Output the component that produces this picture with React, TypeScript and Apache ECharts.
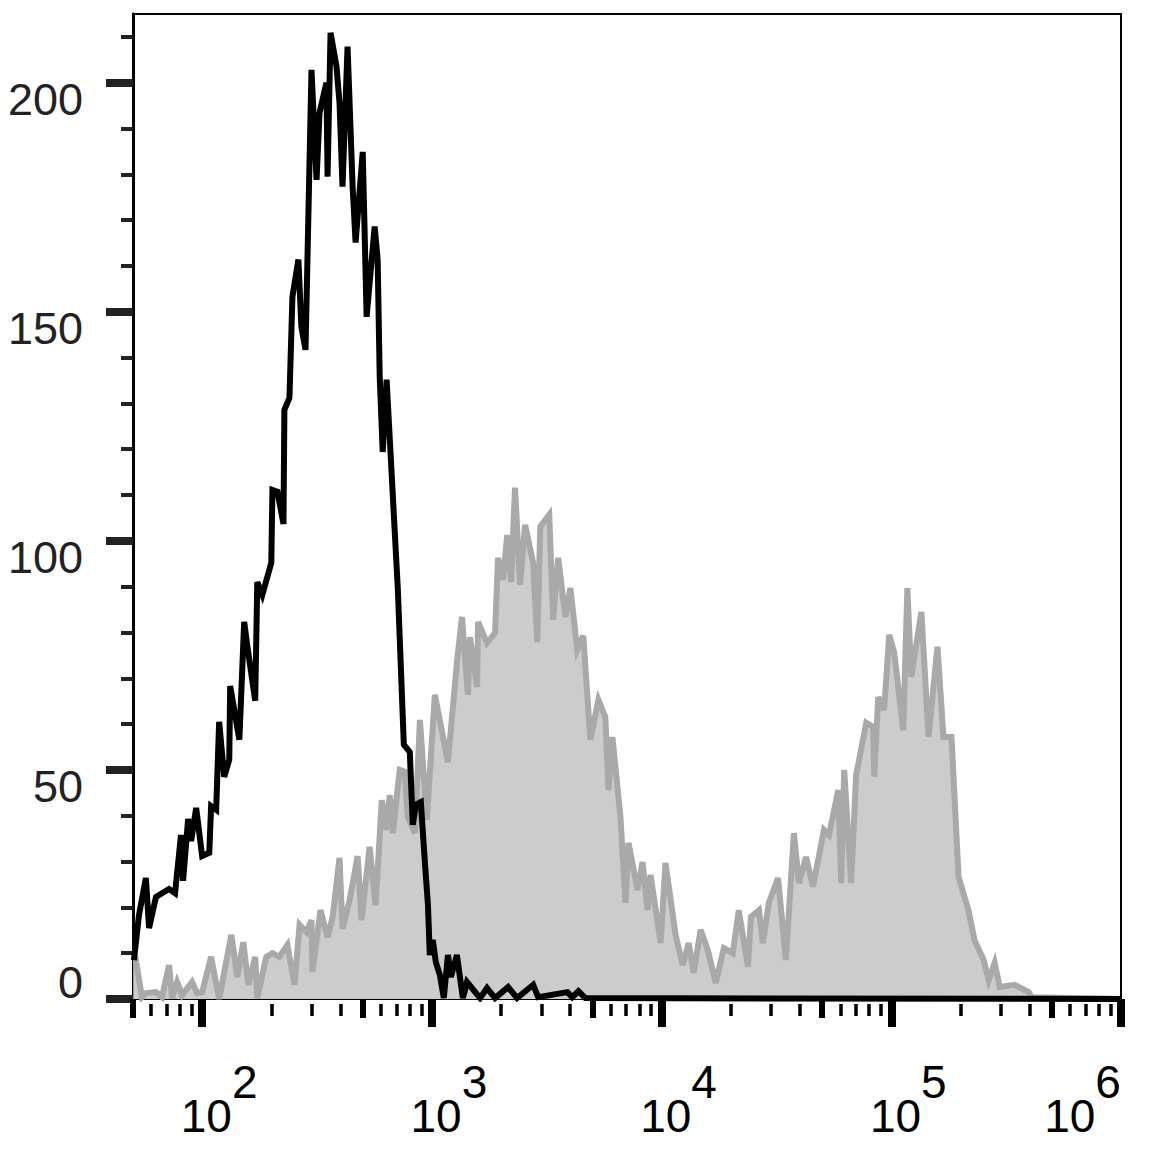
import { useEffect, useRef } from 'react';
import * as echarts from 'echarts';

// log10 of fluorescence intensity (bin positions) and event counts
const blackX = [1.703, 1.725, 1.755, 1.769, 1.799, 1.856, 1.882, 1.908, 1.917, 1.939, 1.952, 1.974, 2.000, 2.031, 2.039, 2.061, 2.074, 2.096, 2.118, 2.122, 2.162, 2.183, 2.197, 2.231, 2.240, 2.262, 2.301, 2.306, 2.328, 2.354, 2.358, 2.380, 2.393, 2.419, 2.432, 2.450, 2.476, 2.498, 2.511, 2.541, 2.546, 2.559, 2.585, 2.598, 2.611, 2.633, 2.655, 2.668, 2.699, 2.716, 2.751, 2.764, 2.773, 2.786, 2.803, 2.852, 2.878, 2.904, 2.917, 2.930, 2.952, 2.969, 2.983, 2.991, 3.004, 3.017, 3.035, 3.052, 3.070, 3.083, 3.109, 3.135, 3.153, 3.210, 3.240, 3.275, 3.332, 3.371, 3.441, 3.463, 3.590, 3.611, 3.638, 3.668, 6.000];
const blackY = [8.5, 18.3, 26.4, 15.5, 22.3, 24.0, 23.1, 35.8, 25.8, 39.3, 34.5, 41.7, 31.2, 31.9, 42.1, 41.3, 60.5, 48.5, 52.2, 68.3, 56.6, 82.3, 76.9, 65.1, 91.0, 88.2, 95.2, 111.1, 110.7, 103.7, 128.6, 131.2, 153.3, 161.4, 146.7, 141.7, 202.8, 178.8, 193.4, 200.0, 179.5, 210.9, 203.5, 195.6, 177.3, 207.9, 177.3, 165.1, 184.9, 148.9, 168.6, 161.4, 135.8, 119.4, 135.2, 89.3, 55.5, 53.9, 38.0, 42.4, 43.0, 30.3, 20.5, 9.6, 12.9, 8.1, 5.2, 0.2, 9.6, 4.8, 9.6, 0.2, 3.7, 0.2, 2.4, 0.2, 2.6, 0.2, 3.1, 0.4, 1.5, 0.4, 1.7, 0.2, 0];

const grayX = [1.700, 1.710, 1.738, 1.755, 1.799, 1.825, 1.856, 1.869, 1.891, 1.913, 1.956, 1.978, 2.000, 2.039, 2.074, 2.127, 2.153, 2.179, 2.201, 2.231, 2.240, 2.279, 2.306, 2.336, 2.371, 2.402, 2.424, 2.454, 2.476, 2.480, 2.515, 2.546, 2.568, 2.598, 2.611, 2.642, 2.677, 2.694, 2.729, 2.755, 2.782, 2.799, 2.817, 2.830, 2.860, 2.882, 2.895, 2.926, 2.948, 2.978, 3.013, 3.070, 3.109, 3.131, 3.157, 3.166, 3.197, 3.201, 3.240, 3.275, 3.288, 3.310, 3.328, 3.345, 3.362, 3.384, 3.406, 3.441, 3.459, 3.472, 3.511, 3.528, 3.550, 3.581, 3.603, 3.633, 3.659, 3.690, 3.725, 3.755, 3.769, 3.786, 3.821, 3.843, 3.856, 3.895, 3.917, 3.939, 3.952, 3.996, 4.017, 4.061, 4.092, 4.118, 4.140, 4.170, 4.201, 4.236, 4.271, 4.310, 4.336, 4.376, 4.389, 4.424, 4.441, 4.467, 4.507, 4.541, 4.576, 4.598, 4.629, 4.659, 4.707, 4.729, 4.769, 4.782, 4.795, 4.825, 4.847, 4.891, 4.921, 4.926, 4.943, 4.969, 4.991, 5.013, 5.052, 5.070, 5.087, 5.131, 5.162, 5.201, 5.227, 5.262, 5.293, 5.336, 5.362, 5.402, 5.424, 5.450, 5.472, 5.537, 5.598, 5.611, 6.000];
const grayY = [9.2, 8.9, 0.4, 1.3, 1.5, 0.4, 7.4, 0.2, 3.7, 0.9, 3.7, 1.3, 1.5, 9.2, 0, 14.0, 4.8, 12.4, 3.1, 9.2, 0.2, 9.2, 10.0, 9.2, 11.8, 3.1, 16.2, 14.6, 17.2, 5.9, 19.4, 13.5, 17.9, 30.8, 15.3, 21.6, 31.2, 17.2, 33.2, 20.5, 43.4, 36.9, 44.5, 36.2, 50.0, 49.6, 39.7, 36.2, 60.9, 39.1, 66.4, 51.7, 73.4, 83.4, 66.4, 79.0, 68.1, 82.3, 77.7, 79.9, 96.3, 91.5, 101.3, 91.0, 111.6, 90.4, 103.5, 95.2, 77.9, 103.1, 105.7, 82.8, 96.3, 83.4, 89.7, 76.2, 79.3, 56.6, 65.3, 61.6, 45.6, 57.2, 39.7, 21.0, 34.1, 23.8, 29.9, 19.4, 27.1, 12.2, 29.7, 14.0, 7.4, 12.2, 5.7, 15.1, 10.7, 3.5, 11.1, 10.0, 19.4, 7.0, 17.9, 19.4, 12.2, 21.0, 26.4, 8.5, 36.2, 25.3, 31.0, 24.5, 36.9, 35.8, 45.6, 25.3, 50.0, 25.3, 48.9, 60.3, 59.4, 48.5, 65.9, 63.1, 79.5, 75.5, 58.7, 89.7, 70.3, 84.5, 57.2, 76.9, 57.2, 57.2, 26.6, 19.4, 12.9, 8.5, 4.1, 7.9, 2.6, 3.1, 1.5, 0.4, 0];

const yMajorTicks = [0, 50, 100, 150, 200];
const yMinorTicks = [10, 20, 30, 40, 60, 70, 80, 90, 110, 120, 130, 140, 160, 170, 180, 190, 210];
const xMajorTicks = [100, 1000, 10000, 100000, 1000000];
const xMediumTicks = [50, 500, 5000, 50000, 500000];
const xMinorTicks = [
  60, 70, 80, 90,
  200, 300, 400, 600, 700, 800, 900,
  2000, 3000, 4000, 6000, 7000, 8000, 9000,
  20000, 30000, 40000, 60000, 70000, 80000, 90000,
  200000, 300000, 400000, 600000, 700000, 800000, 900000,
];

const FONT = 'Arial, "Liberation Sans", sans-serif';

export default function App() {
  const ref = useRef<HTMLDivElement>(null);
  useEffect(() => {
    document.body.style.margin = '0';
    const chart = echarts.init(ref.current!, null, { renderer: 'svg' });
    const toPairs = (xs: number[], ys: number[]) => xs.map((e, i) => [Math.pow(10, e), ys[i]]);
    const logBase: any = {
      type: 'log',
      logBase: 10,
      min: 50,
      max: 1000000,
      gridIndex: 0,
      position: 'bottom',
      offset: 5,
      axisLine: { show: false },
      splitLine: { show: false },
      axisLabel: { show: false },
    };
    const xs = { fontSize: 46, lineHeight: 46, fontFamily: FONT, color: '#000' };
    const ys = { fontSize: 45, lineHeight: 45, fontFamily: FONT, color: '#222' };
    chart.setOption({
      animation: false,
      backgroundColor: '#ffffff',
      grid: {
        left: 133,
        top: 14,
        right: 30,
        bottom: 159,
        containLabel: false,
        outerBoundsMode: 'none',
        show: true,
        borderColor: '#000',
        borderWidth: 2,
        backgroundColor: 'transparent',
      },
      xAxis: [
        {
          ...logBase,
          axisTick: { show: true, customValues: xMajorTicks, length: 28, lineStyle: { color: '#000', width: 8 } },
          axisLabel: {
            show: true,
            customValues: xMajorTicks,
            margin: 72,
            formatter: (v: number) => {
              const e = Math.round(Math.log10(v));
              return e === 6 ? `{bl|10}{sl|${e}}` : `{b|10}{s|${e}}`;
            },
            rich: {
              b: { ...xs, padding: [34, 0, 0, 34] },
              s: { ...xs, padding: [0, 0, 34, 0] },
              bl: { ...xs, padding: [34, 0, 0, 0] },
              sl: { ...xs, padding: [0, 77, 34, 0] },
            },
          },
        },
        {
          ...logBase,
          axisTick: { show: true, customValues: xMediumTicks, length: 19, lineStyle: { color: '#000', width: 6 } },
        },
        {
          ...logBase,
          axisTick: { show: true, customValues: xMinorTicks, length: 12, lineStyle: { color: '#000', width: 3.5 } },
        },
      ],
      yAxis: [
        {
          type: 'value',
          min: 0,
          max: 215,
          position: 'left',
          axisLine: { show: true, lineStyle: { color: '#000', width: 3 } },
          splitLine: { show: false },
          axisTick: { show: true, customValues: yMajorTicks, length: 27, lineStyle: { color: '#222', width: 8 } },
          axisLabel: {
            show: true,
            customValues: yMajorTicks,
            margin: 50,
            formatter: (v: number) => (v === 0 ? `{z|0}` : `{n|${v}}`),
            rich: {
              n: { ...ys, padding: [34, 0, 0, 0] },
              z: { ...ys, padding: [0, 0, 34, 0] },
            },
          },
        },
        {
          type: 'value',
          min: 0,
          max: 215,
          position: 'left',
          axisLine: { show: false },
          splitLine: { show: false },
          axisTick: { show: true, customValues: yMinorTicks, length: 12, lineStyle: { color: '#222', width: 4 } },
          axisLabel: { show: false },
        },
      ],
      series: [
        {
          type: 'line',
          xAxisIndex: 0,
          yAxisIndex: 0,
          data: toPairs(grayX, grayY),
          symbol: 'none',
          lineStyle: { color: '#a9a9a9', width: 6, join: 'miter', miterLimit: 4 },
          areaStyle: { color: '#cccccc', opacity: 1 },
          z: 2,
        },
        {
          type: 'line',
          xAxisIndex: 0,
          yAxisIndex: 0,
          data: toPairs(blackX, blackY),
          symbol: 'none',
          lineStyle: { color: '#000000', width: 6, join: 'miter', miterLimit: 4 },
          z: 3,
        },
      ],
    });
    return () => chart.dispose();
  }, []);
  return <div ref={ref} style={{ width: 1151, height: 1158 }} />;
}
